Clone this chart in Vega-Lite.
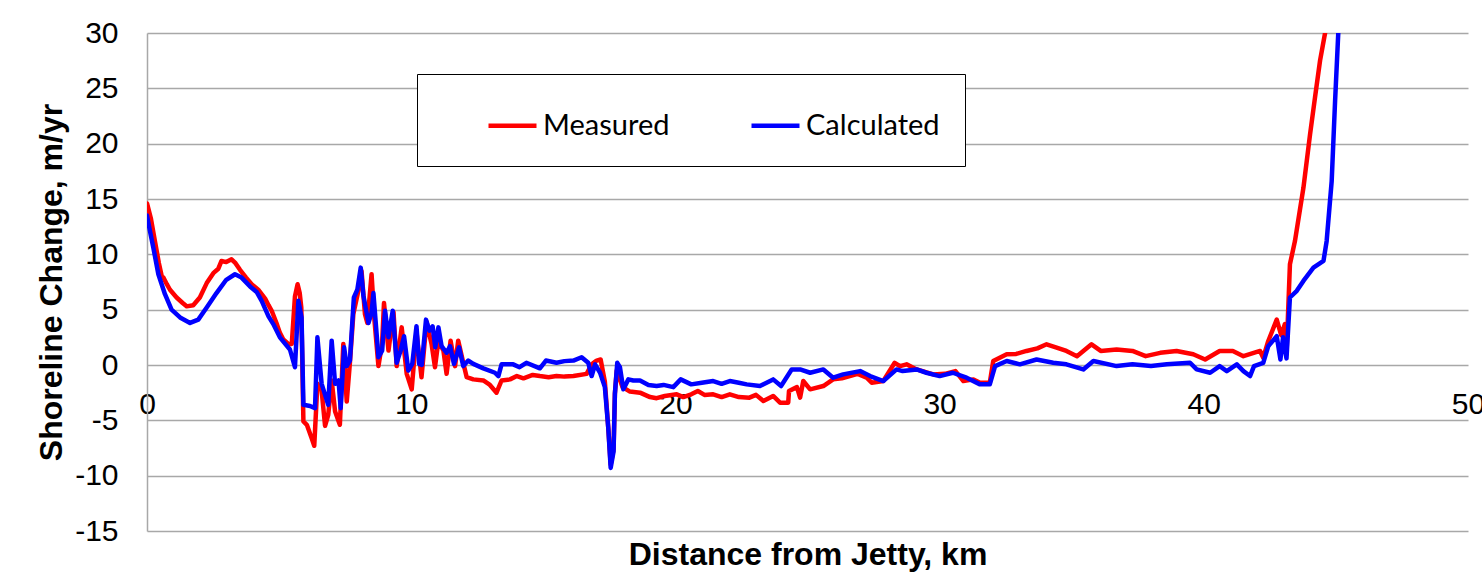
{
  "$schema": "https://vega.github.io/schema/vega-lite/v6.json",
  "width": 1321,
  "height": 498,
  "autosize": "none",
  "padding": {"left": 147, "top": 33, "right": 14, "bottom": 47},
  "background": "white",
  "config": {"view": {"stroke": null}, "font": "Liberation Sans"},
  "data": {"values": [
    {"km": 0, "rate": 14.6, "series": "Measured"},
    {"km": 0.15, "rate": 13.2, "series": "Measured"},
    {"km": 0.3, "rate": 11.2, "series": "Measured"},
    {"km": 0.45, "rate": 9.2, "series": "Measured"},
    {"km": 0.56, "rate": 8.0, "series": "Measured"},
    {"km": 0.62, "rate": 7.9, "series": "Measured"},
    {"km": 0.75, "rate": 7.3, "series": "Measured"},
    {"km": 0.87, "rate": 6.8, "series": "Measured"},
    {"km": 1.12, "rate": 6.1, "series": "Measured"},
    {"km": 1.35, "rate": 5.6, "series": "Measured"},
    {"km": 1.5, "rate": 5.3, "series": "Measured"},
    {"km": 1.75, "rate": 5.4, "series": "Measured"},
    {"km": 2.0, "rate": 6.1, "series": "Measured"},
    {"km": 2.26, "rate": 7.4, "series": "Measured"},
    {"km": 2.51, "rate": 8.3, "series": "Measured"},
    {"km": 2.7, "rate": 8.7, "series": "Measured"},
    {"km": 2.82, "rate": 9.4, "series": "Measured"},
    {"km": 3.0, "rate": 9.3, "series": "Measured"},
    {"km": 3.2, "rate": 9.55, "series": "Measured"},
    {"km": 3.35, "rate": 9.2, "series": "Measured"},
    {"km": 3.52, "rate": 8.6, "series": "Measured"},
    {"km": 3.75, "rate": 7.9, "series": "Measured"},
    {"km": 3.96, "rate": 7.3, "series": "Measured"},
    {"km": 4.21, "rate": 6.8, "series": "Measured"},
    {"km": 4.47, "rate": 6.0, "series": "Measured"},
    {"km": 4.6, "rate": 5.4, "series": "Measured"},
    {"km": 4.72, "rate": 4.9, "series": "Measured"},
    {"km": 4.9, "rate": 3.8, "series": "Measured"},
    {"km": 5.03, "rate": 2.9, "series": "Measured"},
    {"km": 5.16, "rate": 2.3, "series": "Measured"},
    {"km": 5.35, "rate": 1.9, "series": "Measured"},
    {"km": 5.48, "rate": 1.9, "series": "Measured"},
    {"km": 5.6, "rate": 6.2, "series": "Measured"},
    {"km": 5.7, "rate": 7.3, "series": "Measured"},
    {"km": 5.78, "rate": 6.5, "series": "Measured"},
    {"km": 5.84, "rate": 5.2, "series": "Measured"},
    {"km": 5.92, "rate": -5.1, "series": "Measured"},
    {"km": 6.05, "rate": -5.4, "series": "Measured"},
    {"km": 6.23, "rate": -6.6, "series": "Measured"},
    {"km": 6.33, "rate": -7.3, "series": "Measured"},
    {"km": 6.45, "rate": -1.7, "series": "Measured"},
    {"km": 6.61, "rate": -2.3, "series": "Measured"},
    {"km": 6.74, "rate": -5.5, "series": "Measured"},
    {"km": 6.86, "rate": -4.5, "series": "Measured"},
    {"km": 6.99, "rate": -1.4, "series": "Measured"},
    {"km": 7.12, "rate": -4.2, "series": "Measured"},
    {"km": 7.3, "rate": -5.4, "series": "Measured"},
    {"km": 7.43, "rate": 1.9, "series": "Measured"},
    {"km": 7.56, "rate": -3.3, "series": "Measured"},
    {"km": 7.68, "rate": 0.2, "series": "Measured"},
    {"km": 7.81, "rate": 4.6, "series": "Measured"},
    {"km": 8.0, "rate": 6.7, "series": "Measured"},
    {"km": 8.12, "rate": 8.5, "series": "Measured"},
    {"km": 8.25, "rate": 4.6, "series": "Measured"},
    {"km": 8.34, "rate": 3.8, "series": "Measured"},
    {"km": 8.5, "rate": 8.2, "series": "Measured"},
    {"km": 8.6, "rate": 4.3, "series": "Measured"},
    {"km": 8.76, "rate": -0.1, "series": "Measured"},
    {"km": 8.9, "rate": 2.0, "series": "Measured"},
    {"km": 8.97, "rate": 5.6, "series": "Measured"},
    {"km": 9.14, "rate": 1.3, "series": "Measured"},
    {"km": 9.33, "rate": 4.8, "series": "Measured"},
    {"km": 9.45, "rate": -0.1, "series": "Measured"},
    {"km": 9.64, "rate": 3.4, "series": "Measured"},
    {"km": 9.83, "rate": -0.8, "series": "Measured"},
    {"km": 10.02, "rate": -2.2, "series": "Measured"},
    {"km": 10.2, "rate": 3.0, "series": "Measured"},
    {"km": 10.39, "rate": -1.1, "series": "Measured"},
    {"km": 10.58, "rate": 3.9, "series": "Measured"},
    {"km": 10.77, "rate": 1.9, "series": "Measured"},
    {"km": 10.9, "rate": -0.2, "series": "Measured"},
    {"km": 11.03, "rate": 2.2, "series": "Measured"},
    {"km": 11.22, "rate": 1.3, "series": "Measured"},
    {"km": 11.34, "rate": -0.8, "series": "Measured"},
    {"km": 11.49, "rate": 2.2, "series": "Measured"},
    {"km": 11.66, "rate": -0.1, "series": "Measured"},
    {"km": 11.78, "rate": 2.2, "series": "Measured"},
    {"km": 11.97, "rate": 0.2, "series": "Measured"},
    {"km": 12.1, "rate": -1.1, "series": "Measured"},
    {"km": 12.35, "rate": -1.3, "series": "Measured"},
    {"km": 12.73, "rate": -1.4, "series": "Measured"},
    {"km": 12.98, "rate": -1.8, "series": "Measured"},
    {"km": 13.23, "rate": -2.5, "series": "Measured"},
    {"km": 13.42, "rate": -1.4, "series": "Measured"},
    {"km": 13.74, "rate": -1.3, "series": "Measured"},
    {"km": 14.0, "rate": -1.0, "series": "Measured"},
    {"km": 14.25, "rate": -1.2, "series": "Measured"},
    {"km": 14.6, "rate": -0.9, "series": "Measured"},
    {"km": 14.87, "rate": -1.0, "series": "Measured"},
    {"km": 15.2, "rate": -1.1, "series": "Measured"},
    {"km": 15.5, "rate": -1.0, "series": "Measured"},
    {"km": 15.8, "rate": -1.05, "series": "Measured"},
    {"km": 16.14, "rate": -1.0, "series": "Measured"},
    {"km": 16.64, "rate": -0.8, "series": "Measured"},
    {"km": 16.83, "rate": 0.06, "series": "Measured"},
    {"km": 17.02, "rate": 0.4, "series": "Measured"},
    {"km": 17.17, "rate": 0.5, "series": "Measured"},
    {"km": 17.33, "rate": -1.5, "series": "Measured"},
    {"km": 17.46, "rate": -5.7, "series": "Measured"},
    {"km": 17.55, "rate": -9.0, "series": "Measured"},
    {"km": 17.66, "rate": -7.6, "series": "Measured"},
    {"km": 17.71, "rate": -2.6, "series": "Measured"},
    {"km": 17.78, "rate": -0.5, "series": "Measured"},
    {"km": 18.0, "rate": -2.0, "series": "Measured"},
    {"km": 18.28, "rate": -2.4, "series": "Measured"},
    {"km": 18.66, "rate": -2.5, "series": "Measured"},
    {"km": 19.04, "rate": -2.9, "series": "Measured"},
    {"km": 19.29, "rate": -3.0, "series": "Measured"},
    {"km": 19.6, "rate": -2.8, "series": "Measured"},
    {"km": 20.05, "rate": -2.65, "series": "Measured"},
    {"km": 20.3, "rate": -2.9, "series": "Measured"},
    {"km": 20.6, "rate": -2.65, "series": "Measured"},
    {"km": 20.85, "rate": -2.35, "series": "Measured"},
    {"km": 21.1, "rate": -2.7, "series": "Measured"},
    {"km": 21.43, "rate": -2.65, "series": "Measured"},
    {"km": 21.75, "rate": -2.9, "series": "Measured"},
    {"km": 22.06, "rate": -2.65, "series": "Measured"},
    {"km": 22.4, "rate": -2.9, "series": "Measured"},
    {"km": 22.8, "rate": -2.95, "series": "Measured"},
    {"km": 23.05, "rate": -2.7, "series": "Measured"},
    {"km": 23.33, "rate": -3.25, "series": "Measured"},
    {"km": 23.7, "rate": -2.8, "series": "Measured"},
    {"km": 23.96, "rate": -3.4, "series": "Measured"},
    {"km": 24.27, "rate": -3.4, "series": "Measured"},
    {"km": 24.3, "rate": -2.35, "series": "Measured"},
    {"km": 24.6, "rate": -2.0, "series": "Measured"},
    {"km": 24.72, "rate": -2.95, "series": "Measured"},
    {"km": 24.84, "rate": -1.45, "series": "Measured"},
    {"km": 25.1, "rate": -2.2, "series": "Measured"},
    {"km": 25.6, "rate": -1.9, "series": "Measured"},
    {"km": 25.97, "rate": -1.3, "series": "Measured"},
    {"km": 26.3, "rate": -1.2, "series": "Measured"},
    {"km": 26.6, "rate": -1.0, "series": "Measured"},
    {"km": 26.9, "rate": -0.8, "series": "Measured"},
    {"km": 27.24, "rate": -1.15, "series": "Measured"},
    {"km": 27.43, "rate": -1.6, "series": "Measured"},
    {"km": 27.87, "rate": -1.45, "series": "Measured"},
    {"km": 28.3, "rate": 0.2, "series": "Measured"},
    {"km": 28.5, "rate": -0.1, "series": "Measured"},
    {"km": 28.75, "rate": 0.06, "series": "Measured"},
    {"km": 29.13, "rate": -0.4, "series": "Measured"},
    {"km": 29.76, "rate": -0.85, "series": "Measured"},
    {"km": 30.2, "rate": -0.8, "series": "Measured"},
    {"km": 30.6, "rate": -0.55, "series": "Measured"},
    {"km": 30.9, "rate": -1.45, "series": "Measured"},
    {"km": 31.28, "rate": -1.3, "series": "Measured"},
    {"km": 31.53, "rate": -1.6, "series": "Measured"},
    {"km": 31.9, "rate": -1.6, "series": "Measured"},
    {"km": 32.03, "rate": 0.36, "series": "Measured"},
    {"km": 32.54, "rate": 0.97, "series": "Measured"},
    {"km": 32.9, "rate": 1.0, "series": "Measured"},
    {"km": 33.29, "rate": 1.27, "series": "Measured"},
    {"km": 33.7, "rate": 1.5, "series": "Measured"},
    {"km": 34.05, "rate": 1.87, "series": "Measured"},
    {"km": 34.4, "rate": 1.6, "series": "Measured"},
    {"km": 34.8, "rate": 1.27, "series": "Measured"},
    {"km": 35.2, "rate": 0.8, "series": "Measured"},
    {"km": 35.75, "rate": 1.87, "series": "Measured"},
    {"km": 36.1, "rate": 1.27, "series": "Measured"},
    {"km": 36.7, "rate": 1.4, "series": "Measured"},
    {"km": 37.3, "rate": 1.27, "series": "Measured"},
    {"km": 37.8, "rate": 0.8, "series": "Measured"},
    {"km": 38.35, "rate": 1.1, "series": "Measured"},
    {"km": 38.97, "rate": 1.27, "series": "Measured"},
    {"km": 39.6, "rate": 0.97, "series": "Measured"},
    {"km": 40.05, "rate": 0.5, "series": "Measured"},
    {"km": 40.6, "rate": 1.27, "series": "Measured"},
    {"km": 41.1, "rate": 1.27, "series": "Measured"},
    {"km": 41.5, "rate": 0.8, "series": "Measured"},
    {"km": 42.13, "rate": 1.27, "series": "Measured"},
    {"km": 42.25, "rate": 0.66, "series": "Measured"},
    {"km": 42.44, "rate": 2.17, "series": "Measured"},
    {"km": 42.76, "rate": 4.1, "series": "Measured"},
    {"km": 42.93, "rate": 2.7, "series": "Measured"},
    {"km": 43.07, "rate": 3.7, "series": "Measured"},
    {"km": 43.13, "rate": 0.97, "series": "Measured"},
    {"km": 43.26, "rate": 9.1, "series": "Measured"},
    {"km": 43.45, "rate": 11.2, "series": "Measured"},
    {"km": 43.77, "rate": 16.0, "series": "Measured"},
    {"km": 44.02, "rate": 20.8, "series": "Measured"},
    {"km": 44.21, "rate": 24.2, "series": "Measured"},
    {"km": 44.4, "rate": 27.5, "series": "Measured"},
    {"km": 44.59, "rate": 30, "series": "Measured"},
    {"km": 44.75, "rate": 33, "series": "Measured"},
    {"km": 0, "rate": 13.5, "series": "Calculated"},
    {"km": 0.12, "rate": 12.0, "series": "Calculated"},
    {"km": 0.24, "rate": 10.6, "series": "Calculated"},
    {"km": 0.43, "rate": 8.2, "series": "Calculated"},
    {"km": 0.68, "rate": 6.4, "series": "Calculated"},
    {"km": 0.93, "rate": 5.0, "series": "Calculated"},
    {"km": 1.25, "rate": 4.3, "series": "Calculated"},
    {"km": 1.63, "rate": 3.8, "series": "Calculated"},
    {"km": 1.94, "rate": 4.1, "series": "Calculated"},
    {"km": 2.26, "rate": 5.2, "series": "Calculated"},
    {"km": 2.63, "rate": 6.5, "series": "Calculated"},
    {"km": 3.0, "rate": 7.7, "series": "Calculated"},
    {"km": 3.33, "rate": 8.2, "series": "Calculated"},
    {"km": 3.58, "rate": 7.9, "series": "Calculated"},
    {"km": 3.9, "rate": 7.1, "series": "Calculated"},
    {"km": 4.15, "rate": 6.6, "series": "Calculated"},
    {"km": 4.34, "rate": 5.8, "series": "Calculated"},
    {"km": 4.6, "rate": 4.4, "series": "Calculated"},
    {"km": 4.78, "rate": 3.7, "series": "Calculated"},
    {"km": 5.03, "rate": 2.5, "series": "Calculated"},
    {"km": 5.41, "rate": 1.4, "series": "Calculated"},
    {"km": 5.6, "rate": -0.2, "series": "Calculated"},
    {"km": 5.73, "rate": 5.8, "series": "Calculated"},
    {"km": 5.85, "rate": 4.3, "series": "Calculated"},
    {"km": 5.92, "rate": -3.6, "series": "Calculated"},
    {"km": 6.17, "rate": -3.7, "series": "Calculated"},
    {"km": 6.36, "rate": -3.9, "series": "Calculated"},
    {"km": 6.45, "rate": 2.5, "series": "Calculated"},
    {"km": 6.61, "rate": -1.7, "series": "Calculated"},
    {"km": 6.86, "rate": -3.6, "series": "Calculated"},
    {"km": 6.99, "rate": 2.2, "series": "Calculated"},
    {"km": 7.12, "rate": -1.7, "series": "Calculated"},
    {"km": 7.25, "rate": -1.4, "series": "Calculated"},
    {"km": 7.33, "rate": -3.9, "series": "Calculated"},
    {"km": 7.46, "rate": 1.6, "series": "Calculated"},
    {"km": 7.56, "rate": -0.1, "series": "Calculated"},
    {"km": 7.68, "rate": 0.4, "series": "Calculated"},
    {"km": 7.83, "rate": 6.1, "series": "Calculated"},
    {"km": 7.96, "rate": 6.8, "series": "Calculated"},
    {"km": 8.09, "rate": 8.8, "series": "Calculated"},
    {"km": 8.19, "rate": 6.3, "series": "Calculated"},
    {"km": 8.38, "rate": 3.8, "series": "Calculated"},
    {"km": 8.5, "rate": 4.7, "series": "Calculated"},
    {"km": 8.57, "rate": 6.5, "series": "Calculated"},
    {"km": 8.76, "rate": 0.7, "series": "Calculated"},
    {"km": 8.9, "rate": 1.3, "series": "Calculated"},
    {"km": 9.01, "rate": 4.9, "series": "Calculated"},
    {"km": 9.14, "rate": 2.5, "series": "Calculated"},
    {"km": 9.3, "rate": 4.9, "series": "Calculated"},
    {"km": 9.45, "rate": 0.2, "series": "Calculated"},
    {"km": 9.6, "rate": 1.3, "series": "Calculated"},
    {"km": 9.73, "rate": 2.6, "series": "Calculated"},
    {"km": 9.89, "rate": -0.5, "series": "Calculated"},
    {"km": 10.04, "rate": 0.1, "series": "Calculated"},
    {"km": 10.2, "rate": 3.5, "series": "Calculated"},
    {"km": 10.3, "rate": 0.1, "series": "Calculated"},
    {"km": 10.4, "rate": 0, "series": "Calculated"},
    {"km": 10.56, "rate": 4.1, "series": "Calculated"},
    {"km": 10.69, "rate": 3.1, "series": "Calculated"},
    {"km": 10.81, "rate": 3.5, "series": "Calculated"},
    {"km": 10.91, "rate": 1.6, "series": "Calculated"},
    {"km": 11.03, "rate": 3.4, "series": "Calculated"},
    {"km": 11.15, "rate": 1.7, "series": "Calculated"},
    {"km": 11.34, "rate": 1.1, "series": "Calculated"},
    {"km": 11.47, "rate": 1.7, "series": "Calculated"},
    {"km": 11.62, "rate": 0.1, "series": "Calculated"},
    {"km": 11.81, "rate": 1.6, "series": "Calculated"},
    {"km": 11.97, "rate": -0.1, "series": "Calculated"},
    {"km": 12.16, "rate": 0.4, "series": "Calculated"},
    {"km": 12.35, "rate": 0.1, "series": "Calculated"},
    {"km": 12.73, "rate": -0.3, "series": "Calculated"},
    {"km": 13.17, "rate": -0.7, "series": "Calculated"},
    {"km": 13.3, "rate": -1.0, "series": "Calculated"},
    {"km": 13.42, "rate": 0.06, "series": "Calculated"},
    {"km": 13.86, "rate": 0.06, "series": "Calculated"},
    {"km": 14.1, "rate": -0.2, "series": "Calculated"},
    {"km": 14.36, "rate": 0.2, "series": "Calculated"},
    {"km": 14.87, "rate": -0.3, "series": "Calculated"},
    {"km": 15.1, "rate": 0.4, "series": "Calculated"},
    {"km": 15.5, "rate": 0.2, "series": "Calculated"},
    {"km": 15.8, "rate": 0.35, "series": "Calculated"},
    {"km": 16.14, "rate": 0.4, "series": "Calculated"},
    {"km": 16.45, "rate": 0.7, "series": "Calculated"},
    {"km": 16.7, "rate": 0.2, "series": "Calculated"},
    {"km": 16.83, "rate": -1.0, "series": "Calculated"},
    {"km": 16.96, "rate": 0.06, "series": "Calculated"},
    {"km": 17.15, "rate": -0.7, "series": "Calculated"},
    {"km": 17.33, "rate": -2.0, "series": "Calculated"},
    {"km": 17.46, "rate": -5.7, "series": "Calculated"},
    {"km": 17.55, "rate": -9.3, "series": "Calculated"},
    {"km": 17.66, "rate": -7.8, "series": "Calculated"},
    {"km": 17.71, "rate": -2.6, "series": "Calculated"},
    {"km": 17.8, "rate": 0.2, "series": "Calculated"},
    {"km": 17.9, "rate": -0.2, "series": "Calculated"},
    {"km": 18.03, "rate": -2.2, "series": "Calculated"},
    {"km": 18.22, "rate": -1.3, "series": "Calculated"},
    {"km": 18.41, "rate": -1.4, "series": "Calculated"},
    {"km": 18.66, "rate": -1.4, "series": "Calculated"},
    {"km": 18.98, "rate": -1.8, "series": "Calculated"},
    {"km": 19.29, "rate": -1.9, "series": "Calculated"},
    {"km": 19.55, "rate": -1.8, "series": "Calculated"},
    {"km": 19.92, "rate": -2.0, "series": "Calculated"},
    {"km": 20.2, "rate": -1.3, "series": "Calculated"},
    {"km": 20.6, "rate": -1.75, "series": "Calculated"},
    {"km": 21.0, "rate": -1.6, "series": "Calculated"},
    {"km": 21.43, "rate": -1.45, "series": "Calculated"},
    {"km": 21.75, "rate": -1.7, "series": "Calculated"},
    {"km": 22.06, "rate": -1.45, "series": "Calculated"},
    {"km": 22.4, "rate": -1.6, "series": "Calculated"},
    {"km": 22.7, "rate": -1.75, "series": "Calculated"},
    {"km": 23.2, "rate": -1.9, "series": "Calculated"},
    {"km": 23.7, "rate": -1.3, "series": "Calculated"},
    {"km": 24.0, "rate": -1.9, "series": "Calculated"},
    {"km": 24.4, "rate": -0.4, "series": "Calculated"},
    {"km": 24.72, "rate": -0.4, "series": "Calculated"},
    {"km": 25.1, "rate": -0.7, "series": "Calculated"},
    {"km": 25.6, "rate": -0.4, "series": "Calculated"},
    {"km": 25.97, "rate": -1.15, "series": "Calculated"},
    {"km": 26.35, "rate": -0.85, "series": "Calculated"},
    {"km": 26.99, "rate": -0.55, "series": "Calculated"},
    {"km": 27.37, "rate": -1.0, "series": "Calculated"},
    {"km": 27.87, "rate": -1.45, "series": "Calculated"},
    {"km": 28.37, "rate": -0.4, "series": "Calculated"},
    {"km": 28.6, "rate": -0.55, "series": "Calculated"},
    {"km": 29.13, "rate": -0.4, "series": "Calculated"},
    {"km": 29.5, "rate": -0.7, "series": "Calculated"},
    {"km": 30.0, "rate": -1.0, "series": "Calculated"},
    {"km": 30.5, "rate": -0.7, "series": "Calculated"},
    {"km": 31.02, "rate": -1.15, "series": "Calculated"},
    {"km": 31.53, "rate": -1.75, "series": "Calculated"},
    {"km": 31.9, "rate": -1.75, "series": "Calculated"},
    {"km": 32.1, "rate": -0.1, "series": "Calculated"},
    {"km": 32.54, "rate": 0.36, "series": "Calculated"},
    {"km": 33.04, "rate": 0.06, "series": "Calculated"},
    {"km": 33.67, "rate": 0.5, "series": "Calculated"},
    {"km": 34.3, "rate": 0.2, "series": "Calculated"},
    {"km": 34.8, "rate": 0.06, "series": "Calculated"},
    {"km": 35.44, "rate": -0.4, "series": "Calculated"},
    {"km": 35.82, "rate": 0.36, "series": "Calculated"},
    {"km": 36.7, "rate": -0.1, "series": "Calculated"},
    {"km": 37.3, "rate": 0.06, "series": "Calculated"},
    {"km": 38.0, "rate": -0.1, "series": "Calculated"},
    {"km": 38.6, "rate": 0.06, "series": "Calculated"},
    {"km": 39.48, "rate": 0.2, "series": "Calculated"},
    {"km": 39.73, "rate": -0.4, "series": "Calculated"},
    {"km": 40.24, "rate": -0.7, "series": "Calculated"},
    {"km": 40.6, "rate": -0.1, "series": "Calculated"},
    {"km": 40.87, "rate": -0.55, "series": "Calculated"},
    {"km": 41.25, "rate": 0.06, "series": "Calculated"},
    {"km": 41.5, "rate": -0.55, "series": "Calculated"},
    {"km": 41.75, "rate": -1.0, "series": "Calculated"},
    {"km": 41.9, "rate": -0.1, "series": "Calculated"},
    {"km": 42.25, "rate": 0.2, "series": "Calculated"},
    {"km": 42.44, "rate": 1.7, "series": "Calculated"},
    {"km": 42.76, "rate": 2.6, "series": "Calculated"},
    {"km": 42.9, "rate": 0.5, "series": "Calculated"},
    {"km": 43.0, "rate": 2.5, "series": "Calculated"},
    {"km": 43.13, "rate": 0.6, "series": "Calculated"},
    {"km": 43.26, "rate": 6.1, "series": "Calculated"},
    {"km": 43.52, "rate": 6.7, "series": "Calculated"},
    {"km": 43.77, "rate": 7.6, "series": "Calculated"},
    {"km": 44.15, "rate": 8.8, "series": "Calculated"},
    {"km": 44.53, "rate": 9.4, "series": "Calculated"},
    {"km": 44.65, "rate": 11.2, "series": "Calculated"},
    {"km": 44.84, "rate": 16.6, "series": "Calculated"},
    {"km": 44.97, "rate": 23.9, "series": "Calculated"},
    {"km": 45.09, "rate": 30, "series": "Calculated"},
    {"km": 45.13, "rate": 33, "series": "Calculated"}
  ]},
  "mark": {"type": "line", "strokeWidth": 4.5, "clip": true, "strokeJoin": "round", "strokeCap": "round"},
  "encoding": {
    "x": {
      "field": "km", "type": "quantitative",
      "scale": {"domain": [0, 50], "nice": false, "zero": false},
      "axis": {
        "title": "Distance from Jetty, km",
        "offset": -167,
        "values": [0, 10, 20, 30, 40, 50],
        "labelExpr": "toString(datum.value)",
        "grid": false, "domain": false, "ticks": false,
        "labelFontSize": 30, "labelColor": "black", "labelFont": "Liberation Sans",
        "labelPadding": 25, "labelFlush": false, "labelOverlap": false,
        "titleFont": "Liberation Sans", "titleFontSize": 32, "titleFontWeight": "bold",
        "titleColor": "black", "titleY": 200, "titleBaseline": "alphabetic"
      }
    },
    "y": {
      "field": "rate", "type": "quantitative",
      "scale": {"domain": [-15, 30], "nice": false, "zero": false},
      "axis": {
        "title": "Shoreline Change, m/yr",
        "values": [-15, -10, -5, 0, 5, 10, 15, 20, 25, 30],
        "labelExpr": "toString(datum.value)",
        "grid": true, "gridColor": "#a8a8a8", "gridWidth": 1.5,
        "domain": true, "domainColor": "#a8a8a8", "domainWidth": 1.5,
        "ticks": false,
        "labelFontSize": 30, "labelColor": "black", "labelFont": "Liberation Sans",
        "labelPadding": 29,
        "titleFont": "Liberation Sans", "titleFontSize": 32, "titleFontWeight": "bold",
        "titleColor": "black", "titleX": -86, "titleY": 249, "titleBaseline": "alphabetic",
        "titleAngle": -90, "titleAlign": "center"
      }
    },
    "color": {
      "field": "series", "type": "nominal",
      "scale": {"domain": ["Measured", "Calculated"], "range": ["#ff0000", "#0000ff"]},
      "legend": {
        "orient": "none", "legendX": 270, "legendY": 41,
        "direction": "horizontal",
        "title": " ", "titleOrient": "left", "titlePadding": 44, "titleFontSize": 11,
        "strokeColor": "black", "fillColor": "white",
        "padding": 25,
        "symbolType": "stroke", "symbolStrokeWidth": 4.5, "symbolSize": 2304,
        "labelFont": "Lato", "labelFontSize": 29, "labelColor": "black",
        "labelOffset": 4, "columnPadding": 72
      }
    }
  }
}
